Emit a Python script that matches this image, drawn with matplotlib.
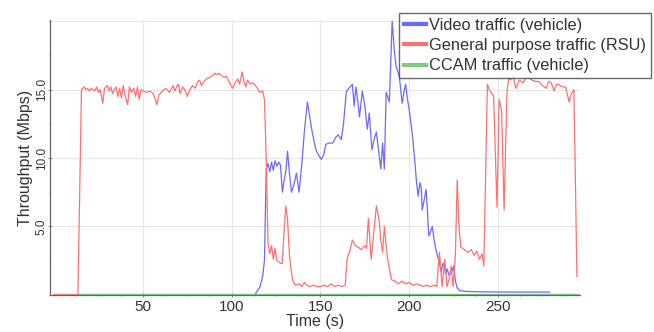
import matplotlib
matplotlib.use("Agg")
import matplotlib.pyplot as plt
from matplotlib.ticker import MultipleLocator, FixedLocator

plt.rcParams['font.family'] = ['Liberation Sans', 'DejaVu Sans']

# ---- data ----
red_t = [0, 13.5, 15.5, 17, 18, 19, 20, 21, 22, 23, 24, 25, 26, 27.5, 28.5, 30, 31, 32, 33, 34,
         35, 36, 37, 38, 39, 40, 41.5, 42.5, 43.5, 45, 46, 47, 48, 49, 50, 52, 54, 56, 58, 59,
         61, 63, 65, 67, 68, 69, 70, 71, 72.5, 74, 75, 76.5, 78, 79.5, 81, 82, 83, 84.5, 86, 87.5,
         89, 90.5, 91.5, 93, 94.5, 96, 97, 98.5, 100.5, 102, 103.5, 104.5, 106, 107, 108, 109, 110.5,
         112, 113.5, 115, 116, 117.5, 118.5, 119.5, 120.5, 121.5, 122.5, 123.5, 124.5, 125.5, 126.5,
         127.5, 128.5, 129.5, 130.5, 131.5, 132.5, 133.5, 134.5, 136, 138, 139.5, 141, 142.5, 144,
         146, 148, 150, 152, 154, 156, 158, 160, 162, 164, 165, 166.5, 168, 169.5, 171, 173, 175,
         176, 177, 178.6, 180, 181.5, 183, 184, 185, 186, 187.6, 189, 190, 192, 194, 196, 198, 200,
         202, 204, 206, 208, 210, 212, 214, 215.5, 217, 218.5, 220, 221.3, 222.5, 223.6, 224.7, 226,
         227, 228, 229, 231, 233, 235, 236.5, 238, 239.5, 241, 242, 244, 245, 246, 247.5, 249.4,
         250.6, 252, 253.4, 255, 256, 257, 258.5, 260, 262, 264, 265.5, 267.4, 269, 271, 273, 275,
         277, 278.5, 280, 281.5, 283, 284, 286, 288, 290, 291, 292.7, 294.4]
red_v = [0, 0, 15.0, 15.2, 15.0, 15.1, 14.9, 15.1, 15.0, 14.9, 15.2, 14.8, 15.0, 14.0, 15.1, 15.3,
         14.9, 15.2, 14.7, 15.0, 15.2, 14.5, 15.1, 14.4, 15.3, 14.6, 13.9, 15.2, 14.8, 15.1, 14.5,
         15.2, 14.3, 15.0, 14.9, 14.8, 14.9, 14.7, 13.9, 14.6, 14.9, 15.1, 14.8, 15.3, 14.9, 15.2,
         15.4, 14.7, 15.2, 14.9, 14.5, 15.0, 15.3, 15.1, 15.6, 15.7, 15.3, 15.6, 15.8, 15.9, 16.0,
         16.2, 16.1, 16.2, 16.0, 15.9, 16.0, 15.6, 15.1, 15.5, 15.8, 15.4, 16.3, 15.6, 15.2, 15.7,
         15.4, 15.5, 15.3, 15.0, 14.8, 14.9, 14.3, 10.0, 3.8, 3.0, 3.6, 2.6, 3.4, 2.5, 2.4, 2.3, 2.3,
         4.5, 6.5, 5.5, 3.0, 1.8, 1.0, 0.7, 0.8, 0.6, 0.9, 0.7, 0.6, 0.7, 0.6, 0.6, 0.7, 0.6, 0.8,
         0.6, 0.7, 0.6, 0.7, 2.6, 3.2, 4.0, 3.6, 3.5, 3.3, 3.6, 3.4, 5.6, 2.6, 4.5, 6.5, 5.5, 4.0,
         3.1, 5.0, 2.8, 1.8, 1.1, 1.0, 0.8, 1.0, 0.8, 0.9, 0.7, 0.8, 0.7, 0.6, 0.7, 0.6, 0.7, 0.6,
         3.1, 0.6, 2.6, 0.6, 1.2, 2.1, 0.6, 3.0, 8.4, 5.0, 3.5, 3.3, 3.1, 3.3, 2.9, 3.2, 2.6, 3.0,
         2.1, 15.4, 15.0, 14.8, 14.5, 6.4, 14.3, 13.5, 6.2, 14.8, 15.9, 15.7, 16.0, 15.1, 15.7, 15.5,
         15.8, 15.9, 15.7, 15.6, 15.6, 15.3, 15.1, 15.6, 15.5, 14.9, 15.4, 15.4, 15.2, 15.2, 14.1,
         14.6, 15.0, 1.35]

blue_t = [0, 113, 114.6, 116, 117.5, 118.5, 119.5, 120.5, 121.5, 122.5, 123.5, 124.5, 125.5, 126.5,
          127.5, 128.6, 129.5, 130.5, 131.5, 132.5, 133.7, 135, 136.5, 138, 139.5, 141, 142.7, 144,
          145.5, 147.5, 149, 150.5, 152, 153, 155, 157, 158.5, 160, 161.8, 163, 164.6, 166, 168,
          169, 170, 171, 172, 173.6, 175, 176.4, 177.5, 179, 180.5, 181.5, 182.5, 184, 185, 186,
          187, 188.8, 190.4, 191.5, 192.6, 194.4, 196, 197, 198, 199, 200, 201.7, 203, 204, 205,
          206, 206.7, 207.3, 208.5, 209.5, 210.3, 211, 212, 213, 214, 215, 216, 217, 218, 219,
          219.7, 220.5, 221.3, 222.5, 223.6, 224.3, 225, 226, 227, 228.5, 232, 240, 260, 279]
blue_v = [0, 0, 0.3, 0.6, 1.35, 2.5, 9.2, 9.6, 9.0, 9.7, 9.1, 9.8, 9.4, 9.7, 9.5, 7.5, 8.3, 9.0,
          10.5, 9.0, 7.5, 8.0, 8.9, 7.5, 9.5, 12.0, 14.1, 13.0, 11.8, 10.6, 10.2, 9.9, 10.3, 11.0,
          11.1, 11.1, 11.5, 11.7, 11.35, 12.5, 14.85, 15.1, 15.4, 13.8, 15.2, 14.2, 13.0, 14.9,
          13.8, 12.1, 13.3, 10.6, 11.5, 11.9, 10.8, 9.2, 11.1, 9.2, 14.8, 14.1, 20.0, 18.0, 16.7,
          16.0, 14.0, 14.8, 15.4, 14.3, 13.5, 11.8, 10.0, 8.4, 7.2, 8.2, 7.9, 6.2, 7.0, 7.7, 6.0,
          4.3, 4.6, 5.0, 4.0, 3.3, 2.8, 2.4, 1.7, 2.3, 2.1, 1.5, 1.9, 1.4, 1.6, 1.8, 2.1, 1.0, 0.5,
          0.3, 0.25, 0.22, 0.2, 0.2]

green_t = [0, 60, 120, 180, 240, 295]
green_v = [0.05, 0.05, 0.05, 0.05, 0.05, 0.05]

labels = ["Video traffic (vehicle)", "General purpose traffic (RSU)", "CCAM traffic (vehicle)"]
x_ticks = [50, 100, 150, 200, 250]
y_ticks = [5.0, 10.0, 15.0]
y_ticklabels = ["5.0", "10.0", "15.0"]

# ---- figure ----
fig = plt.figure(figsize=(6.54, 3.32), dpi=100)
ax = fig.add_axes([0.0765, 0.110, 0.810, 0.830])

c_blue = "#6a6aff"
c_red = "#ff7070"
c_green = "#7ccc7c"

lb, = ax.plot(blue_t, blue_v, color=c_blue, lw=0.9, zorder=2)
lg, = ax.plot(green_t, green_v, color=c_green, lw=1.0, zorder=2.5)
lr, = ax.plot(red_t, red_v, color=c_red, lw=0.9, zorder=4)

ax.set_xlim(-2.2, 296)
ax.set_ylim(-0.05, 20.1)

ax.xaxis.set_major_locator(FixedLocator(x_ticks))
ax.xaxis.set_minor_locator(MultipleLocator(12.5))
ax.yaxis.set_major_locator(FixedLocator(y_ticks))
ax.yaxis.set_minor_locator(MultipleLocator(2.5))
ax.set_yticklabels(y_ticklabels, rotation=90, va="center", fontsize=8.5, color="#333333")
for lab in ax.get_xticklabels():
    lab.set_fontsize(11)
    lab.set_color("#333333")

ax.tick_params(axis="x", which="major", length=3, width=0.6, color="#777777", direction="inout", pad=1.5)
ax.tick_params(axis="y", which="major", length=3, width=0.6, color="#777777", direction="inout", pad=0)
ax.tick_params(axis="both", which="minor", length=2, width=0.5, color="#999999", direction="inout")

ax.grid(True, which="major", color="#e6e6e6", lw=0.8)
ax.axhline(20, color="#e6e6e6", lw=0.8, zorder=0)
for s in ["top", "right"]:
    ax.spines[s].set_visible(False)
for s in ["left", "bottom"]:
    ax.spines[s].set_color("#666666")
    ax.spines[s].set_linewidth(0.9)

ax.set_xlabel("Time (s)", fontsize=11.5, color="#333333", labelpad=0)
ax.set_ylabel("Throughput (Mbps)", fontsize=11.5, color="#333333", labelpad=2)

leg = fig.legend([lb, lr, lg], labels, loc="upper left", bbox_to_anchor=(0.610, 0.962),
                 fontsize=11.8, frameon=True, fancybox=False, borderpad=0.3,
                 handlelength=1.35, handletextpad=0.2, labelspacing=0.33, borderaxespad=0)
leg.get_frame().set_edgecolor("#444444")
leg.get_frame().set_linewidth(1.0)
for h in leg.legend_handles:
    h.set_linewidth(3)
for t in leg.get_texts():
    t.set_color("#333333")

fig.savefig("out.png", dpi=100)
